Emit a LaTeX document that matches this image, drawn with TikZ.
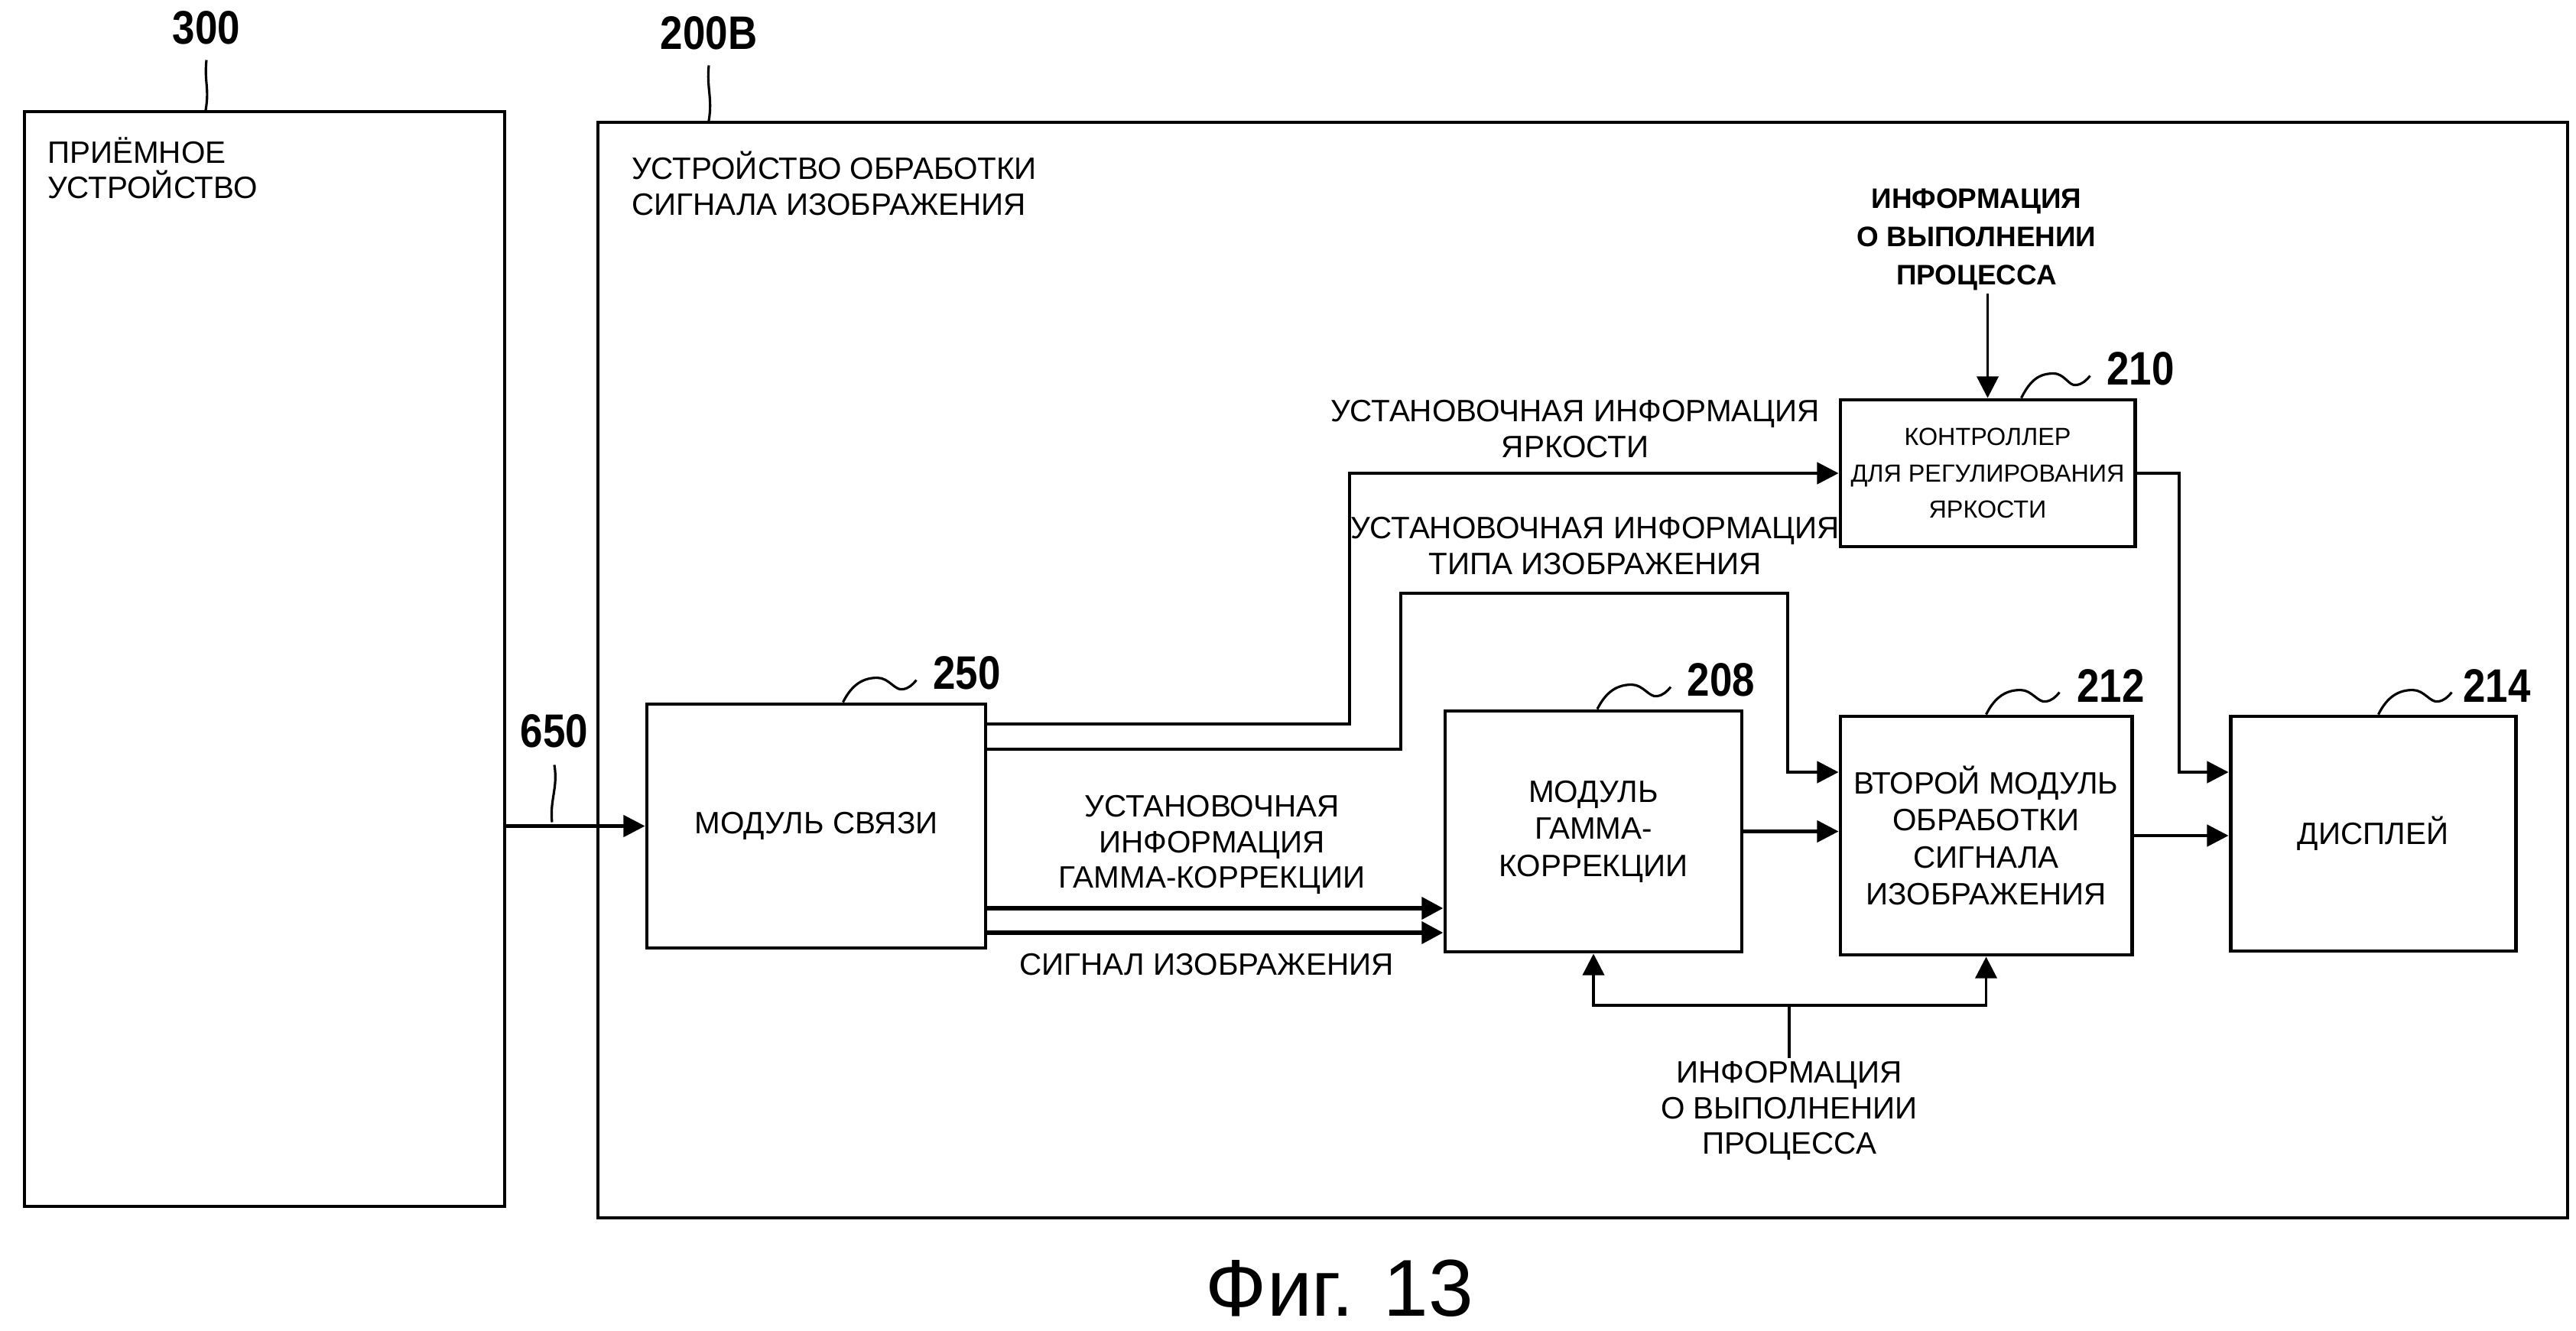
\documentclass[tikz,border=0pt]{standalone}
\usepackage{fontspec}
\setmainfont{Liberation Sans}
\newfontfamily\numfont[FakeStretch=0.86]{Liberation Sans}
\usepackage{tikz}
\usetikzlibrary{positioning,arrows.meta,calc}

\begin{document}
\begin{tikzpicture}[
  block/.style={draw, line width=1.4pt, inner sep=0pt, align=center, font=\fontsize{11.5}{13.8}\selectfont},
  outer/.style={draw, line width=1.1pt, inner sep=0pt},
  lbl/.style={inner sep=1pt, align=center, font=\fontsize{11.5}{13.2}\selectfont},
  num/.style={inner sep=0pt, font=\numfont\bfseries\fontsize{17.5}{18}\selectfont},
  arr/.style={line width=1.2pt, -{Triangle[length=8pt,width=8pt]}},
  fat/.style={line width=1.8pt},
  leader/.style={line width=0.9pt},
]
  \useasboundingbox (0,0) rectangle (33.69,-17.40);

  % receiving device
  \node[outer, minimum width=6.28cm, minimum height=14.32cm] (recv) at (3.46,-8.62) {};
  \node[lbl, anchor=west, align=left] (recvName) at (0.58,-2.20) {ПРИЁМНОЕ\\УСТРОЙСТВО};
  \node[num] (n300) at (2.70,-0.36) {300};
  \draw[leader] ([xshift=-0.77cm]recv.north) .. controls +(0.05,0.3) and +(-0.03,-0.3) .. ([yshift=-0.2cm]n300.south);

  % image signal processing device
  \node[outer, minimum width=25.76cm, minimum height=14.33cm] (proc) at (20.70,-8.765) {};
  \node[lbl, anchor=west, align=left] (procName) at (8.22,-2.40) {УСТРОЙСТВО ОБРАБОТКИ\\СИГНАЛА ИЗОБРАЖЕНИЯ};
  \node[num] (n200) at (9.27,-0.43) {200B};
  \draw[leader] ([xshift=-11.43cm]proc.north) .. controls +(0.05,0.3) and +(-0.03,-0.3) .. ([yshift=-0.2cm]n200.south);

  % blocks
  \node[block, minimum width=4.43cm, minimum height=3.19cm] (comm) at (10.675,-10.805) {МОДУЛЬ СВЯЗИ};
  \node[block, minimum width=3.88cm, minimum height=3.15cm] (gamma) at (20.84,-10.875) {МОДУЛЬ\\ГАММА-\\КОРРЕКЦИИ};
  \node[block, minimum width=3.81cm, minimum height=3.12cm] (second) at (25.975,-10.93) {ВТОРОЙ МОДУЛЬ\\ОБРАБОТКИ\\СИГНАЛА\\ИЗОБРАЖЕНИЯ};
  \node[block, minimum width=3.73cm, minimum height=3.07cm] (disp) at (31.035,-10.905) {ДИСПЛЕЙ};
  \node[block, minimum width=3.85cm, minimum height=1.92cm, font=\fontsize{9.2}{13.6}\selectfont] (ctrl) at (25.995,-6.19) {КОНТРОЛЛЕР\\ДЛЯ РЕГУЛИРОВАНИЯ\\ЯРКОСТИ};

  % reference numerals
  \node[num] (n250) at ($(comm.north)+(1.97,0.38)$) {250};
  \draw[leader] ([xshift=0.35cm]comm.north) .. controls +(0.12,0.24) and +(-0.18,0) .. ++(0.45,0.32) .. controls +(0.15,0) and +(-0.1,-0.02) .. ++(0.33,-0.15) .. controls +(0.08,0.01) and +(-0.05,-0.06) .. ++(0.18,0.12);
  \node[num] (n208) at ($(gamma.north)+(1.67,0.38)$) {208};
  \draw[leader] ([xshift=0.05cm]gamma.north) .. controls +(0.12,0.24) and +(-0.18,0) .. ++(0.45,0.32) .. controls +(0.15,0) and +(-0.1,-0.02) .. ++(0.33,-0.15) .. controls +(0.08,0.01) and +(-0.05,-0.06) .. ++(0.18,0.12);
  \node[num] (n212) at ($(second.north)+(1.63,0.38)$) {212};
  \draw[leader] (second.north) .. controls +(0.12,0.24) and +(-0.18,0) .. ++(0.45,0.32) .. controls +(0.15,0) and +(-0.1,-0.02) .. ++(0.33,-0.15) .. controls +(0.08,0.01) and +(-0.05,-0.06) .. ++(0.18,0.12);
  \node[num] (n214) at ($(disp.north)+(1.62,0.38)$) {214};
  \draw[leader] ([xshift=0.07cm]disp.north) .. controls +(0.12,0.24) and +(-0.18,0) .. ++(0.45,0.32) .. controls +(0.15,0) and +(-0.1,-0.02) .. ++(0.33,-0.15) .. controls +(0.08,0.01) and +(-0.05,-0.06) .. ++(0.18,0.12);
  \node[num] (n210) at ($(ctrl.north)+(2.0,0.38)$) {210};
  \draw[leader] ([xshift=0.44cm]ctrl.north) .. controls +(0.12,0.24) and +(-0.18,0) .. ++(0.42,0.32) .. controls +(0.15,0) and +(-0.1,-0.02) .. ++(0.30,-0.15) .. controls +(0.08,0.01) and +(-0.05,-0.06) .. ++(0.18,0.12);

  % input 650
  \draw[arr] (recv.east |- comm.west) -- (comm.west);
  \node[num] (n650) at (7.25,-9.56) {650};
  \draw[leader] ([yshift=-0.22cm]n650.south) .. controls +(0.05,-0.3) and +(-0.03,0.3) .. ($(recv.east |- comm.west)+(0.6,0.05)$);

  % settings from the communication module
  \coordinate (brtBend) at (17.65,-6.19);
  \draw[arr] ([yshift=1.335cm]comm.east) -| (brtBend) -- (ctrl.west);
  \node[lbl] (brtLbl) at (20.60,-5.61) {УСТАНОВОЧНАЯ ИНФОРМАЦИЯ\\ЯРКОСТИ};

  \coordinate (typeUp) at (18.32,-7.76);
  \coordinate (typeDown) at (23.38,-10.10);
  \draw[arr] ([yshift=1.005cm]comm.east) -| (typeUp) -| (typeDown) -- (second.west |- typeDown);
  \node[lbl] (typeLbl) at (20.86,-7.14) {УСТАНОВОЧНАЯ ИНФОРМАЦИЯ\\ТИПА ИЗОБРАЖЕНИЯ};

  \draw[arr, fat] ([yshift=-1.075cm]comm.east) coordinate (gOut) -- (gamma.west |- gOut);
  \node[lbl] (gamLbl) at (15.85,-11.05) {УСТАНОВОЧНАЯ\\ИНФОРМАЦИЯ\\ГАММА-КОРРЕКЦИИ};
  \draw[arr, fat] ([yshift=-1.395cm]comm.east) coordinate (sOut) -- (gamma.west |- sOut);
  \node[lbl] (sigLbl) at (15.78,-12.62) {СИГНАЛ ИЗОБРАЖЕНИЯ};

  % signal chain
  \draw[arr] (gamma.east) -- (second.west |- gamma.east);
  \draw[arr] (second.east) -- (disp.west |- second.east);
  \coordinate (ctrlOut) at (28.50,-10.10);
  \draw[arr] (ctrl.east) -| (ctrlOut) -- (disp.west |- ctrlOut);

  % process information
  \node[lbl, font=\bfseries\fontsize{10.5}{14.2}\selectfont] (topInfo) at (25.85,-3.13) {ИНФОРМАЦИЯ\\О ВЫПОЛНЕНИИ\\ПРОЦЕССА};
  \draw[arr, line width=1pt] (ctrl.north |- topInfo.south) -- (ctrl.north);
  \node[lbl] (botInfo) at (23.40,-14.53) {ИНФОРМАЦИЯ\\О ВЫПОЛНЕНИИ\\ПРОЦЕССА};
  \coordinate (fbJoin) at (23.40,-13.15);
  \draw[line width=1pt] (botInfo.north) -- (fbJoin);
  \draw[arr, line width=1pt] (fbJoin) -| (gamma.south);
  \draw[arr, line width=1pt] (fbJoin) -| (second.south);

  % caption
  \node[font=\fontsize{30}{32}\selectfont] (figCap) at (17.52,-16.85) {Фиг. 13};
\end{tikzpicture}
\end{document}
